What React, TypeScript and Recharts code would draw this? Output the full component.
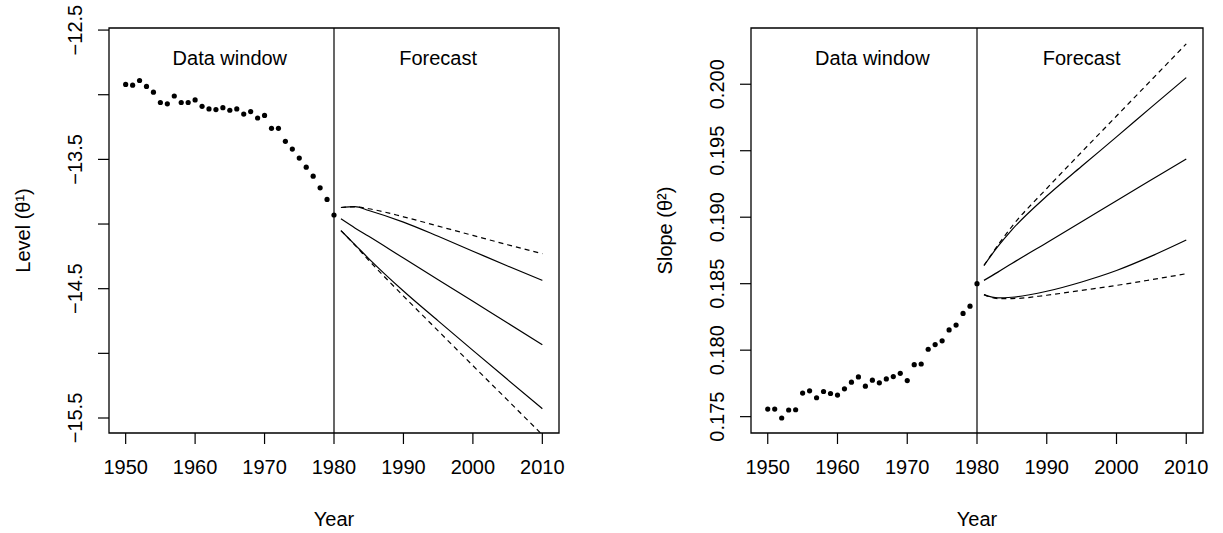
import { ComposedChart, Line, XAxis, YAxis, ReferenceLine, ReferenceArea, ReferenceDot } from 'recharts';

const FONT = "'Liberation Sans', Arial, Helvetica, sans-serif";
const FS = 20;

// observed years (data window) and forecast years
const obsYears = [
  1950, 1951, 1952, 1953, 1954, 1955, 1956, 1957, 1958, 1959, 1960, 1961, 1962, 1963, 1964, 1965,
  1966, 1967, 1968, 1969, 1970, 1971, 1972, 1973, 1974, 1975, 1976, 1977, 1978, 1979, 1980,
];
const fcYears = [1981, 1983, 1985, 1990, 1995, 2000, 2005, 2010];

// level (theta 1)
const levelObs = [
  -12.92, -12.926, -12.89, -12.936, -12.98, -13.06, -13.07, -13.01, -13.06, -13.06, -13.04, -13.09,
  -13.11, -13.115, -13.1, -13.12, -13.11, -13.15, -13.13, -13.18, -13.16, -13.26, -13.26, -13.36,
  -13.42, -13.49, -13.56, -13.63, -13.72, -13.81, -13.93,
];
const levelUpOuter = [-13.872, -13.867, -13.882, -13.944, -14.016, -14.088, -14.16, -14.23];
const levelUp = [-13.872, -13.865, -13.895, -13.985, -14.095, -14.21, -14.325, -14.436];
const levelMid = [-13.96, -14.03, -14.095, -14.263, -14.43, -14.598, -14.765, -14.934];
const levelLo = [-14.051, -14.159, -14.267, -14.518, -14.749, -14.977, -15.203, -15.428];
const levelLoOuter = [-14.051, -14.162, -14.28, -14.557, -14.826, -15.095, -15.362, -15.63];

// slope (theta 2)
const slopeObs = [
  0.17557, 0.17557, 0.1749, 0.1755, 0.17552, 0.17677, 0.17694, 0.17642, 0.17689, 0.17674, 0.17662,
  0.17709, 0.17759, 0.17799, 0.17729, 0.17774, 0.17754, 0.17784, 0.17801, 0.17826, 0.17771, 0.17891,
  0.17896, 0.18007, 0.18042, 0.1807, 0.18152, 0.18189, 0.18276, 0.18331, 0.185,
];
const slopeUpOuter = [0.18637, 0.1879, 0.1893, 0.19216, 0.1949, 0.19761, 0.20032, 0.20304];
const slopeUp = [0.18637, 0.1878, 0.18905, 0.19159, 0.19383, 0.19604, 0.19828, 0.2005];
const slopeMid = [0.18525, 0.18587, 0.18652, 0.18808, 0.18965, 0.19124, 0.19281, 0.19438];
const slopeLo = [0.18418, 0.18393, 0.18398, 0.18443, 0.18513, 0.18599, 0.18707, 0.18828];
const slopeLoOuter = [0.18418, 0.18388, 0.18388, 0.18413, 0.1845, 0.18487, 0.1853, 0.18575];

const yearTicks = [1950, 1960, 1970, 1980, 1990, 2000, 2010];
const levelTicks = [-15.5, -15, -14.5, -14, -13.5, -13, -12.5];
const levelTickLabels = [-15.5, -14.5, -13.5, -12.5];
const slopeTicks = [0.175, 0.18, 0.185, 0.19, 0.195, 0.2];

const X_DOMAIN: [number, number] = [1947.6, 2012.4];
const LEVEL_DOMAIN: [number, number] = [-15.616, -12.484];
const SLOPE_DOMAIN: [number, number] = [0.17377, 0.20423];

function buildRows(obs: number[], fc: number[][]) {
  const rows: any[] = obsYears.map((year, i) => ({ year, obs: obs[i] }));
  fcYears.forEach((year, i) =>
    rows.push({ year, upOuter: fc[0][i], up: fc[1][i], mid: fc[2][i], lo: fc[3][i], loOuter: fc[4][i] })
  );
  return rows;
}

const levelRows = buildRows(levelObs, [levelUpOuter, levelUp, levelMid, levelLo, levelLoOuter]);
const slopeRows = buildRows(slopeObs, [slopeUpOuter, slopeUp, slopeMid, slopeLo, slopeLoOuter]);

const fmtLevel = (v: number) => (v < 0 ? '\u2212' : '') + Math.abs(v).toFixed(1);
const fmtSlope = (v: number) => v.toFixed(3);

function VTick(props: any) {
  const { x, y, payload, shown, fmt } = props;
  if (shown && !shown.includes(payload.value)) return null;
  const tx = x - 14;
  return (
    <text x={tx} y={y} transform={`rotate(-90 ${tx} ${y})`} textAnchor="middle" fontSize={FS} fill="#000">
      {fmt(payload.value)}
    </text>
  );
}

function Panel(props: any) {
  const { rows, yDomain, yTicks, shown, fmt, yLabel, yLabelOffset, annY, width, yAxisWidth, marginRight } = props;
  const lineProps = {
    type: 'monotone' as const,
    stroke: '#000',
    strokeWidth: 1.2,
    dot: false,
    connectNulls: true,
    isAnimationActive: false,
  };
  return (
    <ComposedChart width={width} height={533} data={rows} margin={{ top: 28, right: marginRight, bottom: 0, left: 0 }}>
      <XAxis
        dataKey="year"
        type="number"
        domain={X_DOMAIN}
        allowDataOverflow
        ticks={yearTicks}
        interval={0}
        axisLine={false}
        tickLine={{ stroke: '#000', strokeWidth: 1.2 }}
        tickSize={11}
        tickMargin={16}
        height={100}
        tick={{ fontSize: FS, fill: '#000' }}
        label={{ value: 'Year', position: 'insideBottom', offset: 7, fontSize: FS, fill: '#000' }}
      />
      <YAxis
        type="number"
        domain={yDomain}
        allowDataOverflow
        ticks={yTicks}
        interval={0}
        width={yAxisWidth}
        axisLine={false}
        tickLine={{ stroke: '#000', strokeWidth: 1.2 }}
        tickSize={11}
        tickMargin={2}
        tick={<VTick shown={shown} fmt={fmt} />}
        label={{
          value: yLabel,
          angle: -90,
          position: 'insideLeft',
          offset: yLabelOffset,
          fontSize: FS,
          fill: '#000',
          style: { textAnchor: 'middle' },
        }}
      />
      <ReferenceArea x1={X_DOMAIN[0]} x2={X_DOMAIN[1]} y1={yDomain[0]} y2={yDomain[1]} fill="none" stroke="#000" strokeWidth={1.3} />
      <ReferenceLine x={1980} stroke="#000" strokeWidth={1.2} />
      <ReferenceDot x={1965} y={annY} r={0} fill="none" stroke="none"
        label={{ value: 'Data window', position: 'center', fontSize: FS, fill: '#000' }} />
      <ReferenceDot x={1995} y={annY} r={0} fill="none" stroke="none"
        label={{ value: 'Forecast', position: 'center', fontSize: FS, fill: '#000' }} />
      <Line {...lineProps} dataKey="upOuter" strokeDasharray="5 4" />
      <Line {...lineProps} dataKey="up" />
      <Line {...lineProps} dataKey="mid" />
      <Line {...lineProps} dataKey="lo" />
      <Line {...lineProps} dataKey="loOuter" strokeDasharray="5 4" />
      <Line dataKey="obs" stroke="none" dot={{ r: 2.6, fill: '#000', stroke: 'none' }} isAnimationActive={false} />
    </ComposedChart>
  );
}

export default function App() {
  return (
    <div style={{ position: 'absolute', left: 0, top: 0, width: 1223, height: 533, background: '#fff', fontFamily: FONT }}>
      <div style={{ position: 'absolute', left: 0, top: 0 }}>
        <Panel rows={levelRows} yDomain={LEVEL_DOMAIN} yTicks={levelTicks} shown={levelTickLabels} fmt={fmtLevel}
          yLabel={'Level (\u03b8\u00b9)'} yLabelOffset={23} annY={-12.713} width={611} yAxisWidth={109} marginRight={52} />
      </div>
      <div style={{ position: 'absolute', left: 611, top: 0 }}>
        <Panel rows={slopeRows} yDomain={SLOPE_DOMAIN} yTicks={slopeTicks} shown={null} fmt={fmtSlope}
          yLabel={'Slope (\u03b8\u00b2)'} yLabelOffset={54} annY={0.20201} width={612} yAxisWidth={140} marginRight={20} />
      </div>
    </div>
  );
}
